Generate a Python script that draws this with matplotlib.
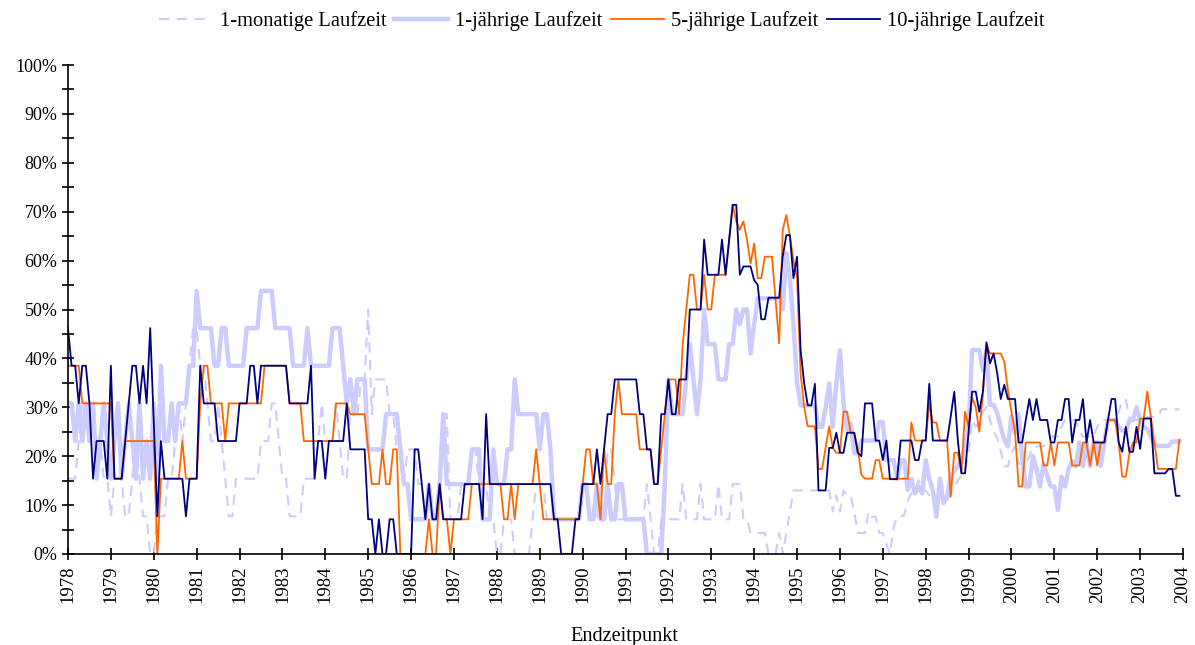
import numpy as np
import matplotlib
matplotlib.use("Agg")
import matplotlib.pyplot as plt
from matplotlib.ticker import MultipleLocator, FuncFormatter

# Anteil in % je Monatsende, Jan 1978 - Dez 2003 (12 Werte pro Zeile = 1 Jahr)
einmonatig = [
    15.4, 15.4, 15.4, 23.1, 30.8, 30.8, 23.1, 30.8, 23.1, 23.1, 15.4, 15.4,
    7.7, 15.4, 15.4, 15.4, 7.7, 7.7, 15.4, 23.1, 15.4, 7.7, 7.7, 0,
    0, 7.7, 7.7, 7.7, 15.4, 15.4, 23.1, 30.8, 23.1, 30.8, 38.5, 46.2,
    46.2, 38.5, 38.5, 30.8, 23.1, 23.1, 30.8, 23.1, 15.4, 7.7, 7.7, 15.4,
    15.4, 15.4, 15.4, 15.4, 15.4, 15.4, 23.1, 23.1, 23.1, 30.8, 30.8, 23.1,
    15.4, 15.4, 7.7, 7.7, 7.7, 7.7, 15.4, 15.4, 15.4, 15.4, 23.1, 30.8,
    23.1, 23.1, 23.1, 30.8, 23.1, 15.4, 15.4, 28.6, 28.6, 28.6, 35.7, 35.7,
    50.0, 28.6, 35.7, 35.7, 35.7, 35.7, 28.6, 28.6, 21.4, 21.4, 14.3, 21.4,
    21.4, 21.4, 14.3, 14.3, 7.1, 7.1, 7.1, 7.1, 14.3, 28.6, 28.6, 7.1,
    7.1, 7.1, 14.3, 14.3, 14.3, 21.4, 21.4, 14.3, 14.3, 14.3, 7.1, 7.1,
    0, 0, 7.1, 7.1, 7.1, 0, 0, 0, 0, 0, 7.1, 14.3,
    14.3, 14.3, 7.1, 7.1, 7.1, 7.1, 7.1, 7.1, 7.1, 7.1, 7.1, 7.1,
    14.3, 14.3, 7.1, 7.1, 7.1, 14.3, 7.1, 21.4, 21.4, 14.3, 7.1, 7.1,
    7.1, 7.1, 7.1, 7.1, 7.1, 7.1, 14.3, 7.1, 0, 0, 7.1, 7.1,
    7.1, 7.1, 7.1, 7.1, 14.3, 7.1, 7.1, 7.1, 7.1, 14.3, 7.1, 7.1,
    7.1, 7.1, 14.3, 7.1, 7.1, 7.1, 14.3, 14.3, 14.3, 7.1, 7.1, 4.3,
    4.3, 4.3, 4.3, 4.3, 0, 0, 0, 4.3, 0, 4.3, 8.7, 13.0,
    13.0, 13.0, 13.0, 13.0, 13.0, 13.0, 13.0, 13.0, 13.0, 13.0, 8.7, 12.0,
    8.7, 13.0, 12.0, 12.0, 8.7, 4.3, 4.3, 4.3, 8.7, 7.6, 7.6, 4.3,
    4.3, 2.0, 0, 5.5, 7.6, 7.6, 8.0, 11.0, 12.4, 13.0, 15.1, 13.0,
    13.0, 12.0, 11.0, 11.0, 12.0, 11.0, 11.0, 12.4, 13.8, 15.0, 16.0, 17.0,
    20.6, 27.4, 26.0, 27.0, 29.0, 30.0, 27.4, 25.0, 23.8, 21.0, 18.0, 17.9,
    20.6, 22.0, 18.5, 18.5, 18.5, 20.0, 22.0, 22.0, 22.0, 22.0, 23.0, 24.0,
    24.0, 24.0, 26.0, 27.4, 27.4, 27.4, 27.4, 25.0, 24.0, 24.0, 24.0, 24.0,
    26.0, 27.4, 27.4, 27.4, 27.4, 27.4, 29.0, 31.5, 31.5, 28.0, 27.4, 27.4,
    27.4, 27.4, 28.0, 28.0, 28.0, 28.0, 29.6, 29.6, 29.6, 29.6, 29.6, 29.6,
]

einjaehrig = [
    30.8, 30.8, 23.1, 30.8, 23.1, 30.8, 23.1, 30.8, 15.4, 23.1, 30.8, 23.1,
    15.4, 23.1, 30.8, 15.4, 23.1, 30.8, 23.1, 15.4, 30.8, 15.4, 23.1, 15.4,
    30.8, 15.4, 38.5, 23.1, 23.1, 30.8, 23.1, 30.8, 30.8, 30.8, 38.5, 38.5,
    53.8, 46.2, 46.2, 46.2, 46.2, 38.5, 38.5, 46.2, 46.2, 38.5, 38.5, 38.5,
    38.5, 38.5, 46.2, 46.2, 46.2, 46.2, 53.8, 53.8, 53.8, 53.8, 46.2, 46.2,
    46.2, 46.2, 46.2, 38.5, 38.5, 38.5, 38.5, 46.2, 38.5, 38.5, 38.5, 38.5,
    38.5, 38.5, 46.2, 46.2, 46.2, 38.5, 30.8, 35.7, 28.6, 35.7, 35.7, 35.7,
    21.4, 21.4, 21.4, 21.4, 21.4, 28.6, 28.6, 28.6, 28.6, 21.4, 14.3, 14.3,
    7.1, 7.1, 7.1, 7.1, 7.1, 14.3, 7.1, 7.1, 14.3, 28.6, 14.3, 14.3,
    14.3, 14.3, 14.3, 14.3, 14.3, 21.4, 21.4, 21.4, 7.1, 7.1, 7.1, 21.4,
    14.3, 14.3, 14.3, 21.4, 21.4, 35.7, 28.6, 28.6, 28.6, 28.6, 28.6, 28.6,
    21.4, 28.6, 28.6, 21.4, 7.1, 7.1, 7.1, 7.1, 7.1, 7.1, 7.1, 7.1,
    14.3, 14.3, 7.1, 7.1, 14.3, 7.1, 7.1, 14.3, 7.1, 7.1, 14.3, 14.3,
    7.1, 7.1, 7.1, 7.1, 7.1, 7.1, 0, 0, 0, 0, 0, 14.3,
    35.7, 28.6, 28.6, 28.6, 28.6, 35.7, 42.9, 35.7, 28.6, 35.7, 50.0, 42.9,
    42.9, 42.9, 35.7, 35.7, 35.7, 42.9, 42.9, 50.0, 47.0, 50.0, 50.0, 41.0,
    47.0, 52.3, 52.3, 52.3, 52.3, 52.3, 52.3, 52.3, 50.0, 61.5, 56.4, 47.0,
    35.0, 30.4, 30.4, 30.4, 30.4, 30.4, 26.0, 26.0, 30.0, 34.9, 26.0, 35.0,
    41.7, 30.8, 25.4, 26.7, 20.6, 20.6, 23.2, 23.2, 23.2, 23.2, 23.2, 27.0,
    27.0, 19.2, 19.2, 19.2, 15.4, 19.2, 19.2, 13.1, 15.4, 12.4, 13.8, 12.4,
    19.2, 15.4, 13.0, 7.6, 15.4, 10.4, 11.7, 15.9, 17.0, 18.0, 19.2, 22.0,
    26.0, 41.7, 41.7, 41.7, 37.6, 41.7, 30.5, 30.5, 28.8, 26.0, 23.3, 22.0,
    28.1, 24.7, 28.6, 19.5, 13.8, 13.8, 20.0, 17.4, 13.8, 18.5, 16.0, 13.8,
    13.8, 9.0, 15.8, 13.8, 17.4, 19.0, 18.0, 22.8, 18.0, 22.8, 18.0, 22.8,
    22.8, 18.0, 22.8, 27.4, 27.4, 27.4, 26.0, 25.3, 25.0, 27.4, 27.4, 30.0,
    27.4, 26.0, 25.5, 24.0, 22.5, 22.1, 22.1, 22.1, 22.1, 23.0, 23.0, 23.0,
]

fuenfjaehrig = [
    38.5, 38.5, 38.5, 38.5, 30.8, 30.8, 30.8, 30.8, 30.8, 30.8, 30.8, 30.8,
    30.8, 15.4, 15.4, 15.4, 23.1, 23.1, 23.1, 23.1, 23.1, 23.1, 23.1, 23.1,
    23.1, 0, 15.4, 15.4, 15.4, 15.4, 15.4, 15.4, 23.1, 15.4, 15.4, 15.4,
    15.4, 30.8, 38.5, 38.5, 30.8, 30.8, 30.8, 30.8, 23.1, 30.8, 30.8, 30.8,
    30.8, 30.8, 30.8, 30.8, 30.8, 30.8, 30.8, 38.5, 38.5, 38.5, 38.5, 38.5,
    38.5, 38.5, 30.8, 30.8, 30.8, 30.8, 23.1, 23.1, 23.1, 23.1, 23.1, 23.1,
    23.1, 23.1, 23.1, 30.8, 30.8, 30.8, 30.8, 28.6, 28.6, 28.6, 28.6, 28.6,
    21.4, 14.3, 14.3, 14.3, 21.4, 14.3, 14.3, 21.4, 21.4, 0, 0, 0,
    0, 0, 0, 0, 0, 7.1, 0, 0, 14.3, 7.1, 7.1, 0,
    7.1, 7.1, 7.1, 7.1, 7.1, 14.3, 14.3, 14.3, 14.3, 14.3, 14.3, 14.3,
    14.3, 14.3, 7.1, 7.1, 14.3, 7.1, 14.3, 14.3, 14.3, 14.3, 14.3, 21.4,
    14.3, 7.1, 7.1, 7.1, 7.1, 7.1, 7.1, 7.1, 7.1, 7.1, 7.1, 7.1,
    14.3, 21.4, 21.4, 14.3, 14.3, 7.1, 21.4, 14.3, 14.3, 28.6, 35.7, 28.6,
    28.6, 28.6, 28.6, 28.6, 21.4, 21.4, 21.4, 21.4, 14.3, 14.3, 21.4, 28.6,
    35.7, 35.7, 35.7, 28.6, 42.9, 50.0, 57.1, 57.1, 50.0, 50.0, 57.1, 50.0,
    50.0, 57.1, 57.1, 57.1, 57.1, 64.3, 71.4, 68.0, 66.3, 68.0, 64.3, 59.4,
    63.5, 56.4, 56.4, 60.8, 60.8, 60.8, 52.0, 43.1, 66.3, 69.3, 65.0, 60.0,
    56.4, 36.9, 30.0, 26.1, 26.1, 26.1, 17.4, 17.4, 21.7, 26.1, 21.7, 20.7,
    20.7, 29.1, 29.1, 24.8, 24.8, 21.7, 16.2, 15.4, 15.4, 15.4, 19.2, 19.2,
    15.4, 15.4, 15.4, 15.4, 15.4, 15.4, 15.4, 15.4, 26.9, 23.2, 23.2, 23.2,
    23.2, 30.8, 26.9, 26.9, 23.2, 23.2, 23.2, 11.7, 20.7, 20.7, 16.5, 29.1,
    26.0, 32.0, 30.0, 25.0, 32.5, 43.0, 41.0, 41.0, 41.0, 41.0, 39.3, 33.5,
    29.0, 25.0, 13.8, 13.8, 22.8, 22.8, 22.8, 22.8, 22.8, 18.1, 18.1, 22.8,
    18.1, 22.8, 22.8, 22.8, 22.8, 18.1, 18.1, 18.1, 22.8, 22.8, 18.1, 22.8,
    18.1, 22.8, 22.8, 27.4, 27.4, 27.4, 22.8, 15.8, 15.8, 20.5, 22.8, 22.8,
    27.7, 27.7, 33.2, 28.1, 22.8, 17.4, 17.4, 17.4, 17.4, 17.4, 17.4, 23.4,
]

zehnjaehrig = [
    46.2, 38.5, 38.5, 30.8, 38.5, 38.5, 30.8, 15.4, 23.1, 23.1, 23.1, 15.4,
    38.5, 15.4, 15.4, 15.4, 23.1, 30.8, 38.5, 38.5, 30.8, 38.5, 30.8, 46.2,
    27.0, 7.7, 23.1, 15.4, 15.4, 15.4, 15.4, 15.4, 15.4, 7.7, 15.4, 15.4,
    15.4, 38.5, 30.8, 30.8, 30.8, 30.8, 23.1, 23.1, 23.1, 23.1, 23.1, 23.1,
    30.8, 30.8, 30.8, 38.5, 38.5, 30.8, 38.5, 38.5, 38.5, 38.5, 38.5, 38.5,
    38.5, 38.5, 30.8, 30.8, 30.8, 30.8, 30.8, 30.8, 38.5, 15.4, 23.1, 23.1,
    15.4, 23.1, 23.1, 23.1, 23.1, 23.1, 30.8, 21.4, 21.4, 21.4, 21.4, 21.4,
    7.1, 7.1, 0, 7.1, 0, 0, 7.1, 7.1, 0, 0, 0, 0,
    0, 21.4, 21.4, 14.3, 7.1, 14.3, 7.1, 7.1, 14.3, 7.1, 7.1, 7.1,
    7.1, 7.1, 7.1, 14.3, 14.3, 14.3, 14.3, 14.3, 7.1, 28.6, 14.3, 14.3,
    14.3, 14.3, 14.3, 14.3, 14.3, 14.3, 14.3, 14.3, 14.3, 14.3, 14.3, 14.3,
    14.3, 14.3, 14.3, 14.3, 7.1, 7.1, 0, 0, 0, 0, 7.1, 7.1,
    14.3, 14.3, 14.3, 14.3, 21.4, 14.3, 21.4, 28.6, 28.6, 35.7, 35.7, 35.7,
    35.7, 35.7, 35.7, 35.7, 28.6, 28.6, 21.4, 21.4, 14.3, 14.3, 28.6, 28.6,
    35.7, 28.6, 28.6, 35.7, 35.7, 35.7, 50.0, 50.0, 50.0, 50.0, 64.3, 57.1,
    57.1, 57.1, 57.1, 64.3, 57.1, 64.3, 71.4, 71.4, 57.1, 58.8, 58.8, 58.8,
    56.0, 55.0, 48.0, 48.0, 52.4, 52.4, 52.4, 52.4, 60.8, 65.2, 65.2, 56.4,
    60.8, 41.7, 34.9, 30.4, 30.4, 34.8, 13.0, 13.0, 13.0, 21.7, 21.7, 24.8,
    20.7, 20.7, 24.8, 24.8, 24.8, 20.7, 20.0, 30.8, 30.8, 30.8, 23.2, 23.2,
    19.2, 23.2, 15.3, 15.3, 15.3, 23.2, 23.2, 23.2, 23.2, 19.2, 19.2, 23.2,
    23.2, 34.8, 23.2, 23.2, 23.2, 23.2, 23.2, 28.1, 33.2, 23.2, 16.5, 16.5,
    24.8, 33.2, 33.2, 29.1, 33.2, 43.3, 39.0, 41.0, 37.0, 31.7, 34.6, 31.7,
    31.7, 31.7, 22.8, 22.8, 27.4, 31.7, 27.4, 31.7, 27.4, 27.4, 27.4, 22.8,
    22.8, 27.4, 27.4, 31.7, 31.7, 22.8, 27.4, 27.4, 31.7, 22.8, 27.4, 22.8,
    22.8, 22.8, 22.8, 27.4, 31.7, 31.7, 22.8, 20.9, 26.0, 20.9, 20.9, 26.0,
    21.5, 27.7, 27.7, 27.7, 16.5, 16.5, 16.5, 16.5, 17.4, 17.4, 11.9, 11.9,
]

jahre = list(range(1978, 2005))
beschriftung = ["1-monatige Laufzeit", "1-jährige Laufzeit",
                "5-jährige Laufzeit", "10-jährige Laufzeit"]


def zeitachse(werte):
    return 1978 + np.arange(len(werte)) / 12


plt.rcParams["font.family"] = ["Liberation Serif", "DejaVu Serif"]
plt.rcParams["font.size"] = 12.5

fig = plt.figure(figsize=(11.95, 6.45), dpi=100)
ax = fig.add_axes([68 / 1195, 91 / 645, 1115 / 1195, 489 / 645])

l1, = ax.plot(zeitachse(einmonatig), einmonatig, color="#ccccff", lw=1.5,
              dashes=(5, 3.5))
l2, = ax.plot(zeitachse(einjaehrig), einjaehrig, color="#ccccff", lw=3.2)
l3, = ax.plot(zeitachse(fuenfjaehrig), fuenfjaehrig, color="#ff6600", lw=1.3)
l4, = ax.plot(zeitachse(zehnjaehrig), zehnjaehrig, color="#000080", lw=1.3)

ax.set_xlim(1978, 2004)
ax.set_ylim(0, 100)
ax.set_xticks(jahre)
ax.set_xticklabels([str(j) for j in jahre], rotation=90, fontsize=13.5)
ax.yaxis.set_major_locator(MultipleLocator(10))
ax.yaxis.set_minor_locator(MultipleLocator(5))
ax.yaxis.set_major_formatter(FuncFormatter(lambda v, p: "%d%%" % v))
ax.tick_params(axis="both", which="both", direction="inout", length=9,
               width=1.2, colors="black")
ax.tick_params(axis="x", pad=4)
ax.tick_params(axis="y", pad=3, labelsize=13)
ax.spines["top"].set_visible(False)
ax.spines["right"].set_visible(False)
ax.spines["left"].set_linewidth(1.2)
ax.spines["bottom"].set_linewidth(1.2)

fig.text(624.5 / 1195, 1 - 636 / 645, "Endzeitpunkt", ha="center",
         va="center", fontsize=14.6)

fig.legend([l1, l2, l3, l4], beschriftung, loc="center",
           bbox_to_anchor=(602 / 1195, 1 - 21 / 645), ncol=4, frameon=False,
           handlelength=2.6, handletextpad=0.35, columnspacing=0.4,
           fontsize=14.8)

fig.savefig("out.png", dpi=100)
